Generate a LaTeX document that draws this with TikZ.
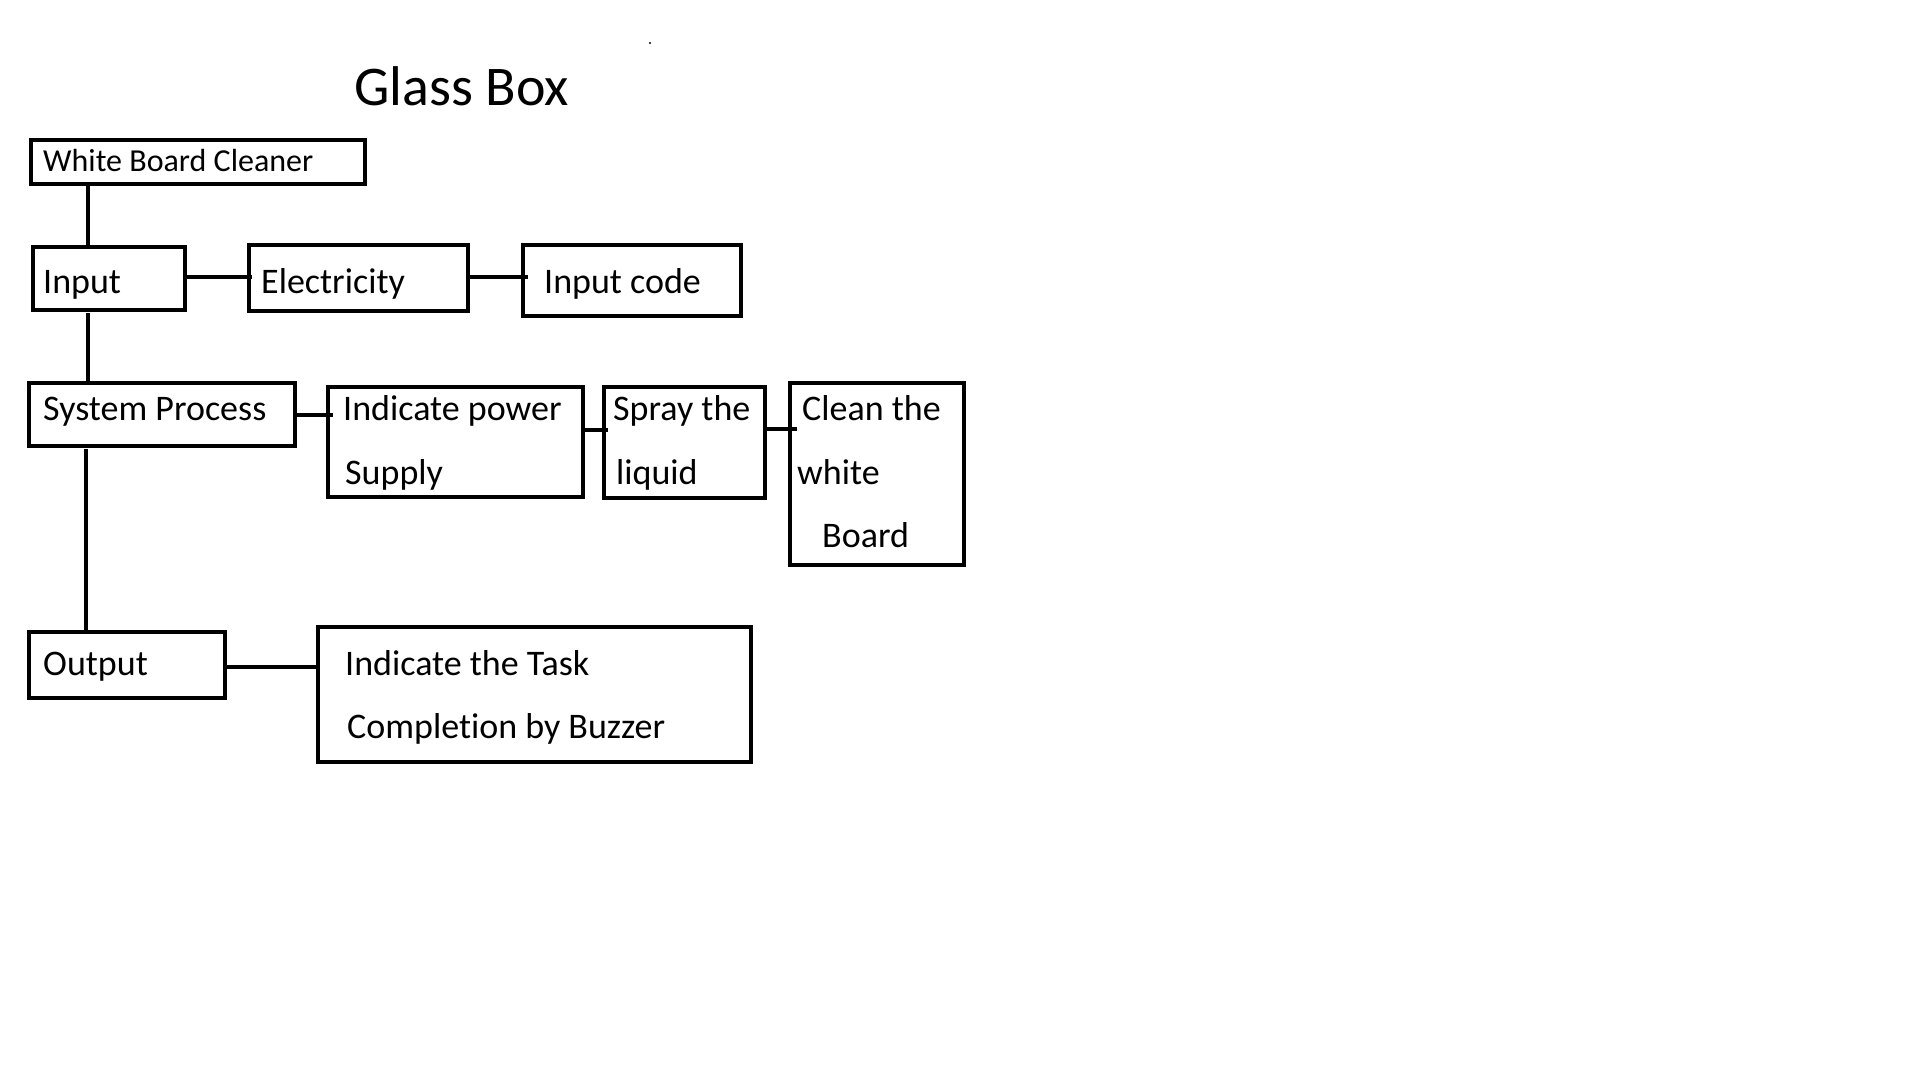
\documentclass[tikz,border=0pt]{standalone}
\usepackage{fontspec}
\setmainfont[Ligatures=NoCommon]{Carlito}
\begin{document}
\begin{tikzpicture}[x=1pt,y=-1pt,
  box/.style={draw=black,line width=3.2pt,rectangle,inner sep=0pt,outer sep=0pt,anchor=north west},
  lbl/.style={inner sep=0pt,anchor=base west,font=\fontsize{36}{43}\selectfont},
  small/.style={inner sep=0pt,anchor=base west,font=\fontsize{32}{38}\selectfont},
  conn/.style={line width=3.2pt}]
\useasboundingbox[fill=white] (0,0) rectangle (1920,1080);

\node[inner sep=0pt,anchor=base west,font=\fontsize{56}{66}\selectfont] (title) at (354,105) {Glass Box};
\fill (650,43) circle (1.2) coordinate (dot);

% boxes
\node[box,minimum width=334pt,minimum height=44pt] (wbc) at (31,140) {};
\node[box,minimum width=152pt,minimum height=63pt] (inp) at (33,247) {};
\node[box,minimum width=219pt,minimum height=66pt] (ele) at (249,245) {};
\node[box,minimum width=218pt,minimum height=71pt] (code) at (523,245) {};
\node[box,minimum width=266pt,minimum height=63pt] (sys) at (29,383) {};
\node[box,minimum width=255pt,minimum height=110pt] (pow) at (328,387) {};
\node[box,minimum width=161pt,minimum height=111pt] (spr) at (604,387) {};
\node[box,minimum width=174pt,minimum height=182pt] (cln) at (790,383) {};
\node[box,minimum width=196pt,minimum height=66pt] (out) at (29,632) {};
\node[box,minimum width=433pt,minimum height=135pt] (task) at (318,627) {};

% texts
\node[small] (twbc) at (43,171) {White Board Cleaner};
\node[lbl] (tinp) at (43,293) {Input};
\node[lbl] (tele) at (261,293) {Electricity};
\node[lbl] (tcode) at (544,293) {Input code};
\node[lbl] (tsys) at (43,420) {System Process};
\node[lbl] (tpow1) at (343,420) {Indicate power};
\node[lbl] (tpow2) at (345,484) {Supply};
\node[lbl] (tspr1) at (613,420) {Spray the};
\node[lbl] (tspr2) at (616,484) {liquid};
\node[lbl] (tcln1) at (802,420) {Clean the};
\node[lbl] (tcln2) at (797,484) {white};
\node[lbl] (tcln3) at (822,547) {Board};
\node[lbl] (tout) at (43,675) {Output};
\node[lbl] (ttask1) at (345,675) {Indicate the Task};
\node[lbl] (ttask2) at (347,738) {Completion by Buzzer};

% connectors
\draw[conn] ([xshift=57pt]wbc.south west) -- ([xshift=55pt]inp.north west);
\draw[conn] ([yshift=-30pt]inp.north east) -- ([yshift=-32pt,xshift=3pt]ele.north west);
\draw[conn] ([yshift=-32pt]ele.north east) -- ([yshift=-32pt,xshift=5pt]code.north west);
\draw[conn] ([xshift=55pt,yshift=-3pt]inp.south west) -- ([xshift=59pt,yshift=2pt]sys.north west);
\draw[conn] ([yshift=-32pt]sys.north east) -- ([yshift=-28pt,xshift=5pt]pow.north west);
\draw[conn] ([yshift=-43pt]pow.north east) -- ([yshift=-43pt,xshift=4pt]spr.north west);
\draw[conn] ([yshift=-42pt]spr.north east) -- ([yshift=-46pt,xshift=7pt]cln.north west);
\draw[conn] ([xshift=57pt,yshift=-3pt]sys.south west) -- ([xshift=57pt,yshift=-2pt]out.north west);
\draw[conn] ([yshift=-35pt]out.north east) -- ([yshift=-40pt]task.north west);
\end{tikzpicture}
\end{document}
